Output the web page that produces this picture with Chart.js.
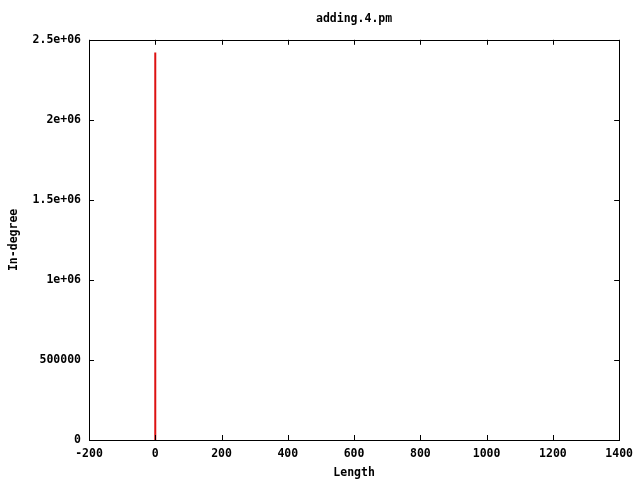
<!DOCTYPE html>
<html>
<head>
<meta charset="utf-8">
<script src="https://cdn.jsdelivr.net/npm/chart.js@4/dist/chart.umd.min.js"></script>
<style>
  html, body { margin: 0; padding: 0; background: #fff; }
  #wrap { width: 640px; height: 480px; }
</style>
</head>
<body>
<div id="wrap"><canvas id="c" width="640" height="480"></canvas></div>
<script>
// data: one impulse near length 0
const lengths = [0];
const inDegree = [2420000];

const xTicks = [-200, 0, 200, 400, 600, 800, 1000, 1200, 1400];
const yTicks = [0, 500000, 1000000, 1500000, 2000000, 2500000];
const yTickLabels = ['0', '500000', '1e+06', '1.5e+06', '2e+06', '2.5e+06'];

// impulses: each value becomes a vertical segment from 0, broken by null
const impulsePoints = [];
lengths.forEach((x, i) => {
  impulsePoints.push({ x: x, y: 0 });
  impulsePoints.push({ x: x, y: inDegree[i] });
  impulsePoints.push({ x: x, y: null });
});

const FONT = { family: '"DejaVu Sans Mono", monospace', size: 11.5, weight: 'bold' };

// gnuplot-style frame with inward ticks on all four sides
const framePlugin = {
  id: 'frame',
  afterDraw(chart) {
    const { ctx, chartArea: a, scales } = chart;
    const len = 5;
    ctx.save();
    ctx.strokeStyle = '#000';
    ctx.lineWidth = 1;
    ctx.beginPath();
    xTicks.forEach(v => {
      const px = Math.round(scales.x.getPixelForValue(v)) + 0.5;
      ctx.moveTo(px, a.bottom); ctx.lineTo(px, a.bottom - len);
      ctx.moveTo(px, a.top); ctx.lineTo(px, a.top + len);
    });
    yTicks.forEach(v => {
      const py = Math.round(scales.y.getPixelForValue(v)) + 0.5;
      ctx.moveTo(a.left, py); ctx.lineTo(a.left + len, py);
      ctx.moveTo(a.right, py); ctx.lineTo(a.right - len, py);
    });
    ctx.stroke();
    ctx.strokeRect(Math.round(a.left) + 0.5, Math.round(a.top) + 0.5,
      Math.round(a.right - a.left), Math.round(a.bottom - a.top));
    ctx.restore();
  }
};

new Chart(document.getElementById('c'), {
  type: 'line',
  data: {
    datasets: [{
      label: 'adding.4.pm',
      data: impulsePoints,
      borderColor: '#dd1111',
      borderWidth: 2,
      pointRadius: 0,
      spanGaps: false,
      fill: false
    }]
  },
  options: {
    responsive: false,
    animation: false,
    layout: { padding: { left: 0, right: 19, top: 0, bottom: 0 } },
    plugins: {
      legend: { display: false },
      tooltip: { enabled: false },
      title: {
        display: true,
        text: 'adding.4.pm',
        color: '#000',
        font: FONT,
        fullSize: false,
        padding: { top: 12, bottom: 14 }
      }
    },
    scales: {
      x: {
        type: 'linear',
        min: -200,
        max: 1400,
        afterBuildTicks: s => { s.ticks = xTicks.map(v => ({ value: v })); },
        afterFit: s => { s.height = 40; },
        grid: { display: false, drawTicks: false },
        border: { display: false },
        ticks: { color: '#000', font: FONT, padding: 7, maxRotation: 0, autoSkip: false,
          callback: (v) => String(v) },
        title: { display: true, text: 'Length', color: '#000', font: FONT, padding: { top: 6, bottom: 0 } }
      },
      y: {
        type: 'linear',
        min: 0,
        max: 2500000,
        afterBuildTicks: s => { s.ticks = yTicks.map(v => ({ value: v })); },
        afterFit: s => { s.width = 89; },
        grid: { display: false, drawTicks: false },
        border: { display: false },
        ticks: {
          color: '#000',
          font: FONT,
          padding: 8,
          autoSkip: false,
          callback: (v) => yTickLabels[yTicks.indexOf(v)]
        },
        title: { display: true, text: 'In-degree', color: '#000', font: FONT, padding: { top: 7, bottom: 0 } }
      }
    }
  },
  plugins: [framePlugin]
});
</script>
</body>
</html>
